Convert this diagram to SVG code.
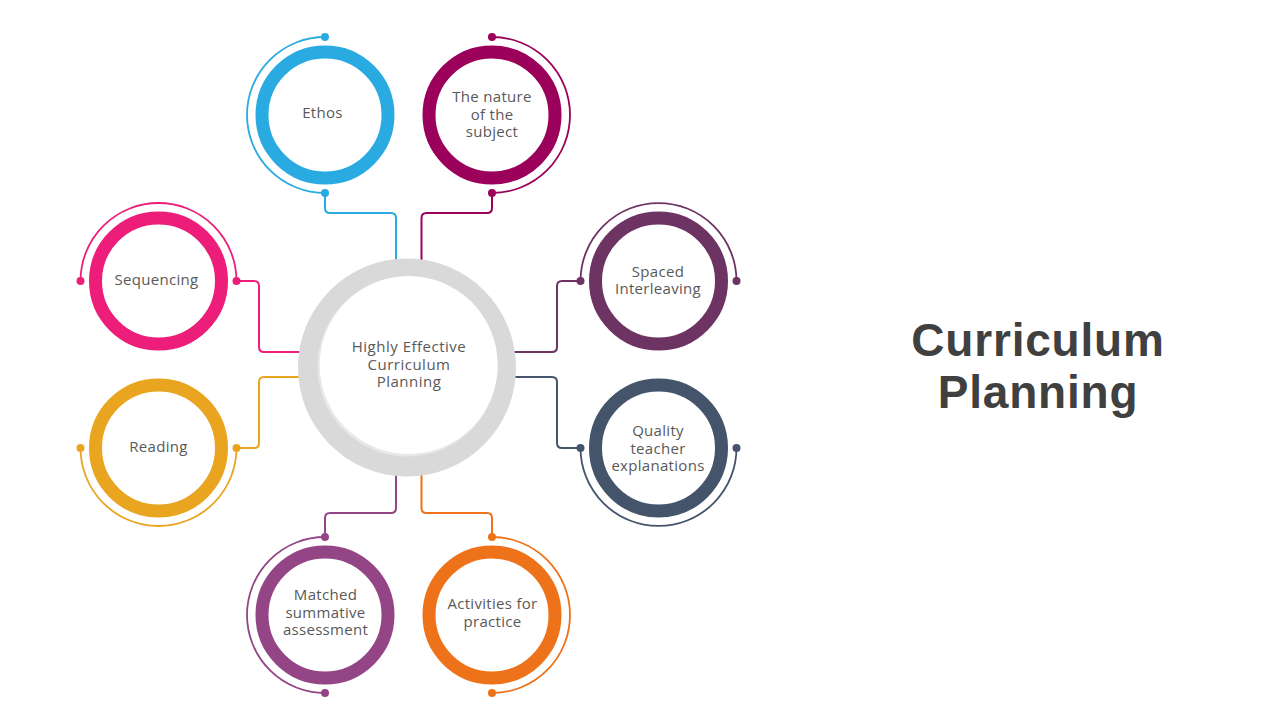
<svg xmlns="http://www.w3.org/2000/svg" width="1280" height="720" viewBox="0 0 1280 720">
<style>
.ring{fill:none;stroke-width:13}
.arc{fill:none;stroke-width:1.8}
.con{fill:none;stroke-width:2}
.lbl{font-family:"Open Sans","Liberation Sans",sans-serif;font-size:15px;letter-spacing:0.3px;fill:#595959;text-anchor:middle}
.clbl{font-family:"Open Sans","Liberation Sans",sans-serif;font-size:15px;letter-spacing:0.5px;fill:#595959;text-anchor:middle}
.title{font-family:"Liberation Sans",Arial,sans-serif;font-size:46px;letter-spacing:0.8px;font-weight:700;fill:#404040;text-anchor:middle}
</style>
<rect width="1280" height="720" fill="#ffffff"/>
<g id="connectors">
<path class="con" stroke="#29ABE2" d="M325,193 V208 Q325,213 330,213 H391 Q396,213 396,218 V262"/>
<path class="con" stroke="#9B005B" d="M492,193 V208 Q492,213 487,213 H426.5 Q421.5,213 421.5,218 V262"/>
<path class="con" stroke="#EC1E79" d="M236.5,281 H254 Q259,281 259,286 V347 Q259,352 264,352 H302"/>
<path class="con" stroke="#E9A520" d="M236.5,448 H254 Q259,448 259,443 V382 Q259,377 264,377 H302"/>
<path class="con" stroke="#6D3362" d="M580.5,281 H562 Q557,281 557,286 V347 Q557,352 552,352 H512"/>
<path class="con" stroke="#44546A" d="M580.5,448 H562 Q557,448 557,443 V382 Q557,377 552,377 H512"/>
<path class="con" stroke="#934585" d="M325,537 V518 Q325,513 330,513 H391 Q396,513 396,508 V473"/>
<path class="con" stroke="#EE7219" d="M492,537 V518 Q492,513 487,513 H426.5 Q421.5,513 421.5,508 V473"/>
</g>
<g id="center">
<circle cx="407" cy="367.5" r="109" fill="#D9D9D9"/>
<circle cx="407.5" cy="366.5" r="90" fill="#E8E8E8"/>
<circle cx="408.7" cy="365" r="89" fill="#FFFFFF"/>
<text class="clbl"><tspan x="409" y="352">Highly Effective</tspan><tspan x="409" y="369.5">Curriculum</tspan><tspan x="409" y="387">Planning</tspan></text>
</g>
<g id="ethos">
<circle class="ring" stroke="#29ABE2" cx="325" cy="115" r="63"/>
<path class="arc" stroke="#29ABE2" d="M325,37 A78,78 0 0 0 325,193"/>
<circle cx="325" cy="37" r="4" fill="#29ABE2"/>
<circle cx="325" cy="193" r="4" fill="#29ABE2"/>
<text class="lbl" x="322.5" y="118">Ethos</text>
</g>
<g id="nature">
<circle class="ring" stroke="#9B005B" cx="492" cy="115" r="63"/>
<path class="arc" stroke="#9B005B" d="M492,37 A78,78 0 0 1 492,193"/>
<circle cx="492" cy="37" r="4" fill="#9B005B"/>
<circle cx="492" cy="193" r="4" fill="#9B005B"/>
<text class="lbl"><tspan x="492" y="102">The nature</tspan><tspan x="492" y="119.5">of the</tspan><tspan x="492" y="137">subject</tspan></text>
</g>
<g id="sequencing">
<circle class="ring" stroke="#EC1E79" cx="158.5" cy="281" r="63"/>
<path class="arc" stroke="#EC1E79" d="M80.5,281 A78,78 0 0 1 236.5,281"/>
<circle cx="80.5" cy="281" r="4" fill="#EC1E79"/>
<circle cx="236.5" cy="281" r="4" fill="#EC1E79"/>
<text class="lbl" x="156.5" y="284.5">Sequencing</text>
</g>
<g id="reading">
<circle class="ring" stroke="#E9A520" cx="158.5" cy="448" r="63"/>
<path class="arc" stroke="#E9A520" d="M80.5,448 A78,78 0 0 0 236.5,448"/>
<circle cx="80.5" cy="448" r="4" fill="#E9A520"/>
<circle cx="236.5" cy="448" r="4" fill="#E9A520"/>
<text class="lbl" x="158.5" y="452">Reading</text>
</g>
<g id="spaced">
<circle class="ring" stroke="#6D3362" cx="658.5" cy="281" r="63"/>
<path class="arc" stroke="#6D3362" d="M580.5,281 A78,78 0 0 1 736.5,281"/>
<circle cx="580.5" cy="281" r="4" fill="#6D3362"/>
<circle cx="736.5" cy="281" r="4" fill="#6D3362"/>
<text class="lbl"><tspan x="658" y="276.5">Spaced</tspan><tspan x="658" y="294">Interleaving</tspan></text>
</g>
<g id="quality">
<circle class="ring" stroke="#44546A" cx="658.5" cy="448" r="63"/>
<path class="arc" stroke="#44546A" d="M580.5,448 A78,78 0 0 0 736.5,448"/>
<circle cx="580.5" cy="448" r="4" fill="#44546A"/>
<circle cx="736.5" cy="448" r="4" fill="#44546A"/>
<text class="lbl"><tspan x="658" y="436">Quality</tspan><tspan x="658" y="453.5">teacher</tspan><tspan x="658" y="471">explanations</tspan></text>
</g>
<g id="matched">
<circle class="ring" stroke="#934585" cx="325" cy="615" r="63"/>
<path class="arc" stroke="#934585" d="M325,537 A78,78 0 0 0 325,693"/>
<circle cx="325" cy="537" r="4" fill="#934585"/>
<circle cx="325" cy="693" r="4" fill="#934585"/>
<text class="lbl"><tspan x="325.5" y="600">Matched</tspan><tspan x="325.5" y="617.5">summative</tspan><tspan x="325.5" y="635">assessment</tspan></text>
</g>
<g id="activities">
<circle class="ring" stroke="#EE7219" cx="492" cy="615" r="63"/>
<path class="arc" stroke="#EE7219" d="M492,537 A78,78 0 0 1 492,693"/>
<circle cx="492" cy="537" r="4" fill="#EE7219"/>
<circle cx="492" cy="693" r="4" fill="#EE7219"/>
<text class="lbl"><tspan x="492.5" y="609">Activities for</tspan><tspan x="492.5" y="626.5">practice</tspan></text>
</g>
<g id="title">
<text class="title"><tspan x="1038" y="356">Curriculum</tspan><tspan x="1038" y="408">Planning</tspan></text>
</g>
</svg>
